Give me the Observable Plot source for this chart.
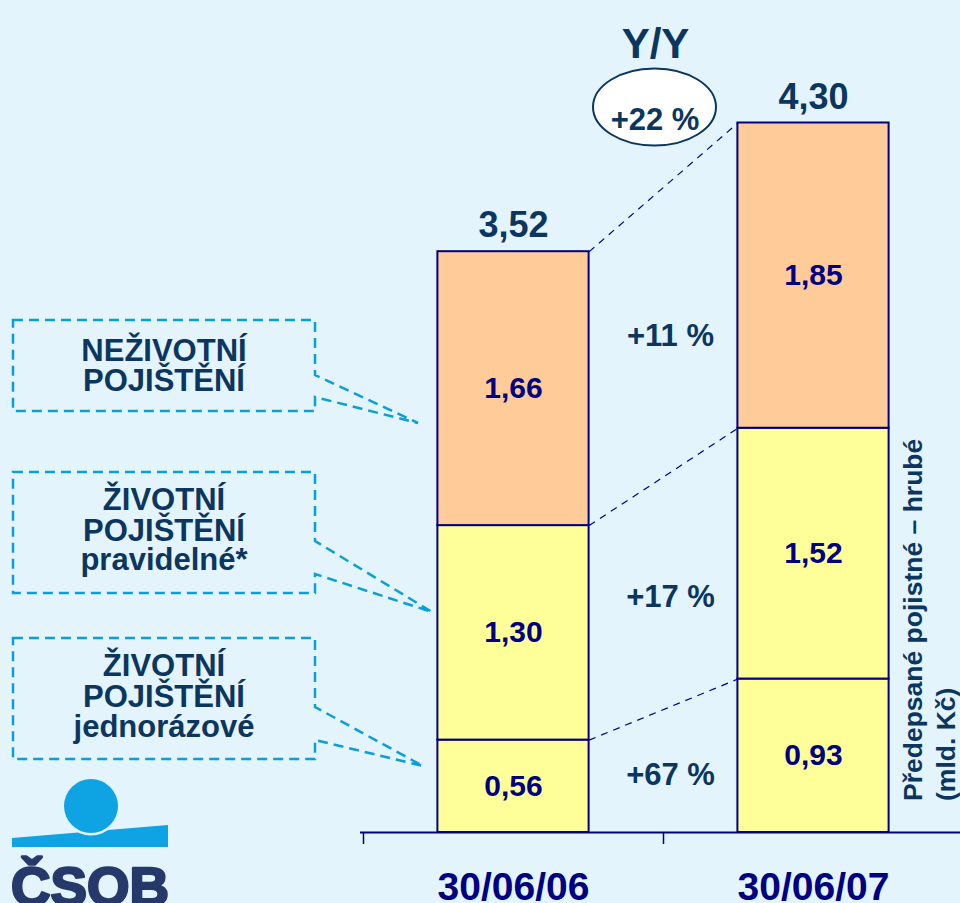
<!DOCTYPE html>
<html>
<head>
<meta charset="utf-8">
<script src="https://cdn.jsdelivr.net/npm/d3@7"></script>
<script src="https://cdn.jsdelivr.net/npm/@observablehq/plot@0.6"></script>
<style>
  html, body { margin: 0; padding: 0; background: #e3f4fc; overflow: hidden; }
  #chart svg { display: block; }
</style>
</head>
<body>
<div id="chart"></div>
<script>
// ---------- data ----------
const dates = ["30/06/06", "30/06/07"];
const seriesNames = ["ŽIVOTNÍ POJIŠTĚNÍ jednorázové", "ŽIVOTNÍ POJIŠTĚNÍ pravidelné*", "NEŽIVOTNÍ POJIŠTĚNÍ"];
const values2006 = [0.56, 1.30, 1.66];
const values2007 = [0.93, 1.52, 1.85];
const totals = [3.52, 4.30];
const growthLabels = ["+67 %", "+17 %", "+11 %"];
const totalGrowthLabel = "+22 %";
const headline = "Y/Y";
const calloutTexts = [
  ["ŽIVOTNÍ", "POJIŠTĚNÍ", "jednorázové"],
  ["ŽIVOTNÍ", "POJIŠTĚNÍ", "pravidelné*"],
  ["NEŽIVOTNÍ", "POJIŠTĚNÍ"]
];
const axisTitle = ["Předepsané pojistné – hrubé", "(mld. Kč)"];
const logoText = "ČSOB";

// ---------- styles ----------
const BG = "#e3f4fc";
const NAVY = "#000080";
const DARK = "#0b365f";
const CYAN = "#0c9fd7";
const LOGO_BLUE = "#0ea3e3";
const LOGO_DARK = "#25396a";
const FONT = "'Liberation Sans', Arial, Helvetica, sans-serif";
const seriesColors = ["#ffff99", "#ffff99", "#ffcc99"];
const HALF = 0.252; // half bar width in band units

const fmt = v => v.toFixed(2).replace(".", ",");

// ---------- derived table (stacked) ----------
const valuesByDate = [values2006, values2007];
const rows = [];
dates.forEach((date, i) => {
  let acc = 0;
  valuesByDate[i].forEach((v, k) => {
    rows.push({date, i, k, value: v, y1: acc, y2: acc + v});
    acc += v;
  });
});
const seg = (i, k) => rows.find(r => r.i === i && r.k === k);
const links = seriesNames.map((s, k) => ({
  x1: 0 + 0.5 + HALF, y1: seg(0, k).y2,
  x2: 1 + 0.5 - HALF, y2: seg(1, k).y2
}));
const growth = growthLabels.map((g, k) => ({
  text: g,
  y: ((seg(0, k).y1 + seg(0, k).y2) / 2 + (seg(1, k).y1 + seg(1, k).y2) / 2) / 2
}));
const totalRows = totals.map((t, i) => ({i, t}));

const chart = Plot.plot({
  width: 960,
  height: 903,
  marginLeft: 360,
  marginRight: 0,
  marginTop: 7,
  marginBottom: 71,
  style: {background: BG, fontFamily: FONT, overflow: "visible"},
  x: {type: "linear", domain: [0, 2], range: [363, 963]},
  y: {domain: [0, 5], axis: null},
  color: {type: "identity"},
  marks: [
    Plot.rect(rows, {
      x1: d => d.i + 0.5 - HALF, x2: d => d.i + 0.5 + HALF,
      y1: "y1", y2: "y2",
      fill: d => seriesColors[d.k], stroke: NAVY, strokeWidth: 2
    }),
    Plot.link(links, {x1: "x1", y1: "y1", x2: "x2", y2: "y2",
      stroke: NAVY, strokeWidth: 1.2, strokeDasharray: "7,6"}),
    Plot.ruleY([0], {stroke: NAVY, strokeWidth: 2}),
    Plot.axisX({ticks: [0, 1, 2], tickSize: 12, tickFormat: () => "", stroke: NAVY, strokeWidth: 1.5}),
    Plot.text(rows, {
      x: d => d.i + 0.5, y: d => (d.y1 + d.y2) / 2, text: d => fmt(d.value),
      fill: NAVY, fontSize: 30, fontWeight: "bold"
    }),
    Plot.text(totalRows, {
      x: d => d.i + 0.5, y: "t", text: d => fmt(d.t), dy: -26,
      fill: DARK, fontSize: 36, fontWeight: "bold"
    }),
    Plot.text(dates, {
      x: (d, i) => i + 0.5, y: () => 0, text: d => d, dy: 55,
      fill: NAVY, fontSize: 39, fontWeight: "bold"
    }),
    Plot.text(growth, {
      x: () => 1, y: "y", text: "text", dx: 7, dy: 4,
      fill: DARK, fontSize: 31, fontWeight: "bold"
    }),
    Plot.text([headline], {
      x: () => 1, frameAnchor: "top", text: d => d, dx: -8, dy: 21,
      fill: DARK, fontSize: 42, fontWeight: "bold"
    }),
    Plot.text([totalGrowthLabel], {
      x: () => 1, frameAnchor: "top", text: d => d, dx: -8.5, dy: 100,
      fill: DARK, fontSize: 31, fontWeight: "bold"
    })
  ]
});

document.getElementById("chart").appendChild(chart);

// ---------- annotations (ellipse, callouts, axis title, logo) ----------
const svg = d3.select(chart);
const sx = chart.scale("x");
const boundaryX = sx.apply(1);

// ellipse behind "+22 %"
const styleNode = chart.querySelector("style");
const ell = document.createElementNS("http://www.w3.org/2000/svg", "ellipse");
ell.setAttribute("cx", boundaryX - 8.5);
ell.setAttribute("cy", 107);
ell.setAttribute("rx", 61.5);
ell.setAttribute("ry", 38.5);
ell.setAttribute("fill", "white");
ell.setAttribute("stroke", DARK);
ell.setAttribute("stroke-width", 2);
if (styleNode && styleNode.nextSibling) chart.insertBefore(ell, styleNode.nextSibling);
else chart.insertBefore(ell, chart.firstChild);

// callout boxes (legend for the stack segments)
const calloutLayout = [
  {k: 2, top: 320, bottom: 411, ya: 375, yb: 397, tipX: 418, tipY: 423, baselines: [361, 391]},
  {k: 1, top: 472, bottom: 593, ya: 541, yb: 574, tipX: 432, tipY: 612, baselines: [510, 541, 570]},
  {k: 0, top: 638, bottom: 759, ya: 707, yb: 740, tipX: 423, tipY: 766, baselines: [676, 707, 737]}
];
const boxLeft = 13, boxRight = 315, boxCenter = 164;
const cg = svg.append("g");
calloutLayout.forEach(c => {
  const p = d3.path();
  p.moveTo(boxLeft, c.top);
  p.lineTo(boxRight, c.top);
  p.lineTo(boxRight, c.ya);
  p.lineTo(c.tipX, c.tipY);
  p.lineTo(boxRight, c.yb);
  p.lineTo(boxRight, c.bottom);
  p.lineTo(boxLeft, c.bottom);
  p.closePath();
  cg.append("path").attr("d", p.toString())
    .attr("fill", "none").attr("stroke", CYAN).attr("stroke-width", 2.5)
    .attr("stroke-dasharray", "10,6");
  const lines = calloutTexts[c.k];
  lines.forEach((t, j) => {
    cg.append("text").attr("x", boxCenter).attr("y", c.baselines[j])
      .attr("text-anchor", "middle").attr("fill", DARK)
      .attr("font-family", FONT).attr("font-weight", "bold").attr("font-size", 31)
      .text(t);
  });
});

// rotated axis title at right
const tg = svg.append("g");
[922, 955].forEach((bx, j) => {
  tg.append("text").attr("transform", `translate(${bx},801) rotate(-90)`)
    .attr("text-anchor", "start").attr("fill", DARK)
    .attr("font-family", FONT).attr("font-weight", "bold").attr("font-size", 26.5)
    .text(axisTitle[j]);
});

// logo
const lg = svg.append("g");
lg.append("path").attr("d", "M12,838 L168,825 L168,847 L12,847 Z").attr("fill", LOGO_BLUE);
lg.append("circle").attr("cx", 91).attr("cy", 806).attr("r", 29.5).attr("fill", BG);
lg.append("circle").attr("cx", 91).attr("cy", 806).attr("r", 27).attr("fill", LOGO_BLUE);
lg.append("text").attr("x", 11).attr("y", 905).attr("text-anchor", "start")
  .attr("fill", LOGO_DARK).attr("stroke", LOGO_DARK).attr("stroke-width", 2.5)
  .attr("stroke-linejoin", "round")
  .attr("font-family", FONT).attr("font-weight", "bold")
  .attr("font-size", 54).attr("textLength", 158).attr("lengthAdjust", "spacingAndGlyphs")
  .text(logoText);
</script>
</body>
</html>
